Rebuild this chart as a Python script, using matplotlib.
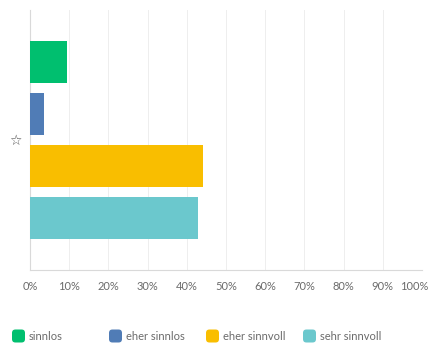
import matplotlib
matplotlib.use("Agg")
import matplotlib.pyplot as plt
import matplotlib.transforms as mtransforms
from matplotlib.patches import FancyBboxPatch

# Data
series = ["sinnlos", "eher sinnlos", "eher sinnvoll", "sehr sinnvoll"]
values = [9.5, 3.6, 44.1, 42.8]
colors = ["#00BF6F", "#507CB6", "#F9BE00", "#6BC8CD"]
category = "☆"
xticks = [0, 10, 20, 30, 40, 50, 60, 70, 80, 90, 100]
xticklabels = [f"{t}%" for t in xticks]

W, H = 429, 344
fig = plt.figure(figsize=(W / 100, H / 100), dpi=100)
ax = fig.add_axes([30 / W, (H - 270) / H, (422 - 30) / W, (270 - 10) / H])

positions = list(range(len(series)))
ax.barh(positions, values, height=0.82, color=colors, zorder=3)
ax.set_ylim(4.0, -1.0)
ax.set_xlim(0, 100)

ax.set_xticks(xticks)
ax.set_xticklabels(xticklabels, fontsize=8, color="#6b6b6b", family="Lato")
ax.tick_params(axis="x", length=0, pad=8)
last = ax.get_xticklabels()[-1]
last.set_transform(last.get_transform() + mtransforms.ScaledTranslation(-8 / 100, 0, fig.dpi_scale_trans))
ax.set_yticks([1.5])
ax.set_yticklabels([category], fontsize=10, color="#555555", family="DejaVu Sans")
ax.tick_params(axis="y", length=0, pad=6)

ax.grid(axis="x", color="#eeeeee", linewidth=0.7, zorder=0)
for s in ["top", "right"]:
    ax.spines[s].set_visible(False)
ax.spines["left"].set_color("#d9d9d9")
ax.spines["bottom"].set_color("#d9d9d9")
ax.spines["left"].set_linewidth(0.8)
ax.spines["bottom"].set_linewidth(0.8)

# Legend (manual)
x_starts = [12, 109, 206, 303]
yc = 336
sq = 13
for x0, lab, col in zip(x_starts, series, colors):
    p = FancyBboxPatch(((x0) / W, (H - yc - sq / 2) / H), sq / W, sq / H,
                       boxstyle="round,pad=0,rounding_size=0.008",
                       transform=fig.transFigure, facecolor=col, edgecolor="none",
                       mutation_aspect=W / H)
    fig.patches.append(p)
    fig.text((x0 + sq + 4) / W, (H - yc) / H, lab, fontsize=8, color="#6b6b6b",
             family="Lato", va="center", ha="left")

fig.savefig("out.png", dpi=100, facecolor="white")
